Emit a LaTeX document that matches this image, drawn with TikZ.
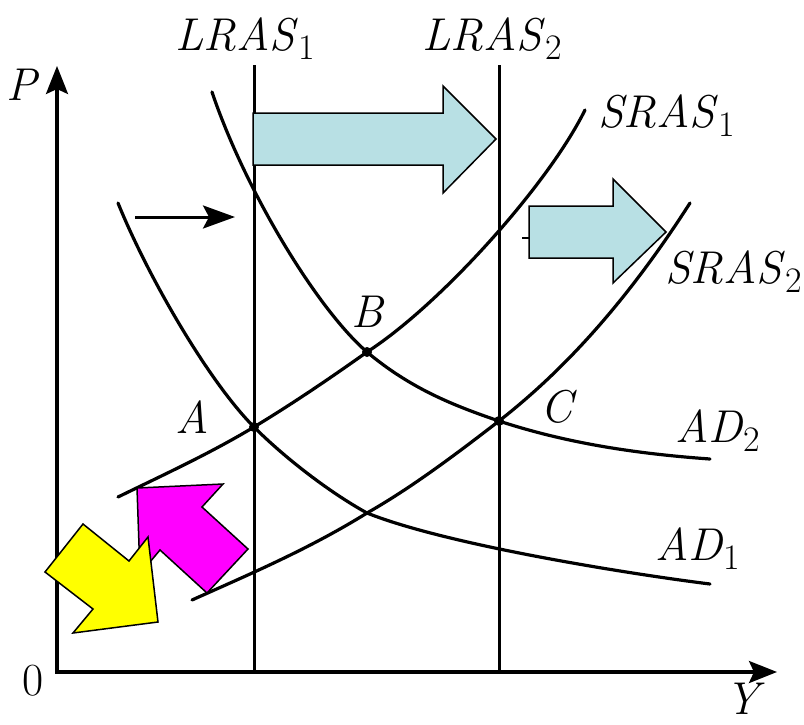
\documentclass[tikz,border=0pt]{standalone}
\usepackage{graphicx}
\usetikzlibrary{arrows.meta}
\definecolor{shiftcyan}{RGB}{184,224,228}
\definecolor{shiftmagenta}{RGB}{255,0,255}
\definecolor{shiftyellow}{RGB}{255,255,0}
\newcommand{\curvename}[2]{\textit{#1}\raisebox{-0.2em}{\scalebox{0.78}{#2}}}

\begin{document}
\begin{tikzpicture}[x=1pt, y=-1pt,
  curve/.style={line width=3.2pt, line cap=round},
  axis/.style={line width=3.2pt, line join=miter},
  lras/.style={line width=3pt},
  shiftarrow/.style={draw=black, line width=1.5pt, line join=miter},
  lbl/.style={font=\fontsize{46}{50}\selectfont, inner sep=0pt, anchor=base west},
  eqdot/.style={circle, fill=black, inner sep=0pt, minimum size=10pt}]
  \useasboundingbox (0,0) rectangle (804,724);

  % axes
  \coordinate (O) at (57,672);
  \coordinate (ptop) at (57,66);
  \coordinate (yend) at (777,672);
  \draw[axis, {Stealth[length=28pt,width=22pt,inset=5pt]}-{Stealth[length=28pt,width=22pt,inset=5pt]}] (ptop) -- (O) -- (yend);
  \node[lbl] (plbl) at (6,100) {\textit{P}};
  \node[lbl] (ylbl) at (725,714) {\textit{Y}};
  \node[lbl] (olbl) at (22,695) {0};

  % long-run supply
  \coordinate (lras1top) at (254,65);
  \coordinate (lras1bot) at (254,672);
  \coordinate (lras2top) at (499,65);
  \coordinate (lras2bot) at (499,672);
  \draw[lras] (lras1top) -- (lras1bot);
  \draw[lras] (lras2top) -- (lras2bot);
  \node[lbl] (lras1lbl) at (175,50) {\curvename{LRAS}{1}};
  \node[lbl] (lras2lbl) at (422,50) {\curvename{LRAS}{2}};

  % equilibria and curve ends
  \node[eqdot] (A) at (254,427) {};
  \node[eqdot] (B) at (367,352) {};
  \node[eqdot] (C) at (499,421) {};
  \coordinate (X) at (367,513);
  \coordinate (sras1a) at (118,497);
  \coordinate (sras1b) at (585,110);
  \coordinate (sras2a) at (192,600);
  \coordinate (sras2b) at (690,203);
  \coordinate (ad1a) at (118,203);
  \coordinate (ad1b) at (710,584);
  \coordinate (ad2a) at (212,92);
  \coordinate (ad2b) at (710,459);

  % short-run supply and demand curves
  \draw[curve] (sras1a) .. controls (163,475) and (209,454) .. (A.center)
    .. controls (292,404) and (329,379) .. (B.center)
    .. controls (440,305) and (548,185) .. (sras1b);
  \draw[curve] (sras2a) .. controls (250,574) and (309,549) .. (X)
    .. controls (411,488) and (455,455) .. (C.center)
    .. controls (563,371) and (626,303) .. (sras2b);
  \draw[curve] (ad1a) .. controls (148,277) and (209,382) .. (A.center)
    .. controls (285,458) and (329,492) .. (X)
    .. controls (447,545) and (630,574) .. (ad1b);
  \draw[curve] (ad2a) .. controls (245,190) and (317,309) .. (B.center)
    .. controls (411,389) and (455,406) .. (C.center)
    .. controls (569,444) and (640,454) .. (ad2b);
  \node[lbl] (sras1lbl) at (598,127) {\curvename{SRAS}{1}};
  \node[lbl] (sras2lbl) at (665,283) {\curvename{SRAS}{2}};
  \node[lbl] (ad2lbl) at (675,442) {\curvename{AD}{2}};
  \node[lbl] (ad1lbl) at (655,560) {\curvename{AD}{1}};
  \node[lbl] (albl) at (175,433) {\textit{A}};
  \node[lbl] (blbl) at (351,327) {\textit{B}};
  \node[lbl] (clbl) at (540,422) {\textit{C}};

  % small shift arrow
  \coordinate (shiftfrom) at (135,217);
  \coordinate (shiftto) at (235,217);
  \draw[line width=3pt, -{Stealth[length=32pt,width=23pt,inset=6pt]}] (shiftfrom) -- (shiftto);

  % block arrows
  \filldraw[shiftarrow, fill=shiftcyan] (253,113) -- (443,113) -- (443,86) -- (496,139) -- (443,193) -- (443,165) -- (253,165) -- cycle;
  \draw[line width=2pt] (522,238) -- (529,238);
  \filldraw[shiftarrow, fill=shiftcyan] (529,206) -- (613,206) -- (613,179) -- (666,232) -- (613,283) -- (613,258) -- (529,258) -- cycle;
  \filldraw[shiftarrow, fill=shiftmagenta] (137,488) -- (223,484) -- (202,507) -- (248,549) -- (207,593) -- (160,550) -- (140,574) -- cycle;
  \filldraw[shiftarrow, fill=shiftyellow] (158,622) -- (148,537) -- (129,561) -- (83,524) -- (45,572) -- (93,609) -- (73,633) -- cycle;
\end{tikzpicture}
\end{document}
